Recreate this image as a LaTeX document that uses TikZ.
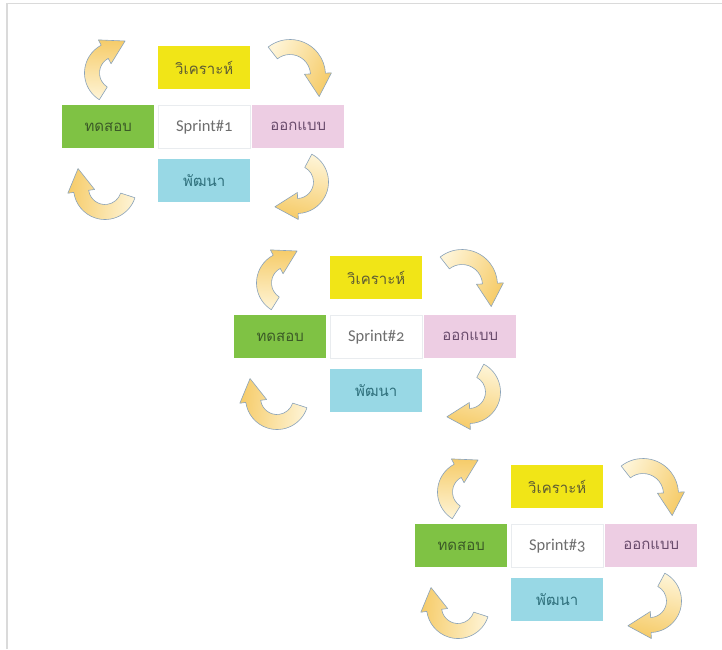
\documentclass[tikz,border=0pt]{standalone}
\usepackage{fontspec}
\setmainfont{Carlito}[Numbers=OldStyle]
\newfontfamily\thaifont[Script=Thai]{Loma}
\usetikzlibrary{calc}
\definecolor{cYel}{HTML}{F1E517}
\definecolor{cGrn}{HTML}{7FC244}
\definecolor{cPnk}{HTML}{EDCDE3}
\definecolor{cCyn}{HTML}{98D8E5}
\definecolor{cWhB}{HTML}{E9ECEF}
\definecolor{tYel}{HTML}{5E5C34}
\definecolor{tGrn}{HTML}{3B5A27}
\definecolor{tWht}{HTML}{6E6E6E}
\definecolor{tPnk}{HTML}{694B6C}
\definecolor{tCyn}{HTML}{2E6F7B}
\definecolor{aPale}{HTML}{FEF4D6}
\definecolor{aDeep}{HTML}{F6CC6A}
\definecolor{aLine}{HTML}{8AA3BA}
\definecolor{frameC}{HTML}{DADADA}
\tikzset{
  box/.style={minimum width=92pt, minimum height=43pt, inner sep=0pt, anchor=north west},
  thaibox/.style={box, font=\thaifont\fontsize{15}{18}\selectfont},
  cycarrow/.style={shade, bottom color=aPale, top color=aDeep, draw=aLine, line width=0.6pt, line join=round},
}
\newcommand{\cyc}[5]{%
  \pgfmathsetmacro{\cycY}{-1*(#2)}%
  \pgfmathsetmacro{\cycRo}{#3+7.5}%
  \pgfmathsetmacro{\cycRi}{#3-7.5}%
  \pgfmathsetmacro{\cycHo}{#3+13.5}%
  \pgfmathsetmacro{\cycHi}{#3-13.5}%
  \pgfmathsetmacro{\cycD}{#5-90}%
  \pgfmathsetmacro{\cycS}{(#4+#5)/2-180}%
  \begin{scope}[shift={(#1,\cycY)}]
    \path[cycarrow, shading angle=\cycS] (#4:\cycRo) arc[start angle=#4, end angle=#5, radius=\cycRo]
      -- (#5:\cycHo) -- ($(#5:#3)+(\cycD:23)$) -- (#5:\cycHi) -- (#5:\cycRi)
      arc[start angle=#5, end angle=#4, radius=\cycRi] -- cycle;
  \end{scope}}
\newcommand{\sprint}[3]{%
  \node[box, fill=white, draw=cWhB, line width=0.6pt, font=\fontsize{16.5}{18}\selectfont, text=tWht] (s#1) at (#2,-#3) {Sprint\##1};
  \node[thaibox, fill=cYel, text=tYel] (a#1) at ($(s#1.north west)+(0,59)$) {วิเคราะห์};
  \node[thaibox, fill=cGrn, text=tGrn] (t#1) at ($(s#1.north west)+(-96,0)$) {ทดสอบ};
  \node[thaibox, fill=cPnk, text=tPnk] (d#1) at ($(s#1.north west)+(94,0)$) {ออกแบบ};
  \node[thaibox, fill=cCyn, text=tCyn] (p#1) at ($(s#1.north west)+(0,-54)$) {พัฒนา};
  \begin{scope}[shift={(s#1.north west)}]
    \cyc{-42}{-32}{24}{238}{118}
    \cyc{132}{-30}{28}{128}{3}
    \cyc{139}{77}{24}{62}{-88}
    \cyc{-53}{83}{24}{-18}{-172}
  \end{scope}}
\begin{document}
\begin{tikzpicture}[x=1pt,y=1pt]
  \useasboundingbox (0,0) rectangle (722,-649);
  \fill[white] (0,0) rectangle (722,-649);
  \draw[frameC, line width=1.5pt] (7,-649) coordinate (fb) -- (7,-3.5) coordinate (fc) -- (722,-3.5) coordinate (fr);
  \sprint{1}{158}{105}
  \sprint{2}{330}{315}
  \sprint{3}{511}{524}
\end{tikzpicture}
\end{document}
